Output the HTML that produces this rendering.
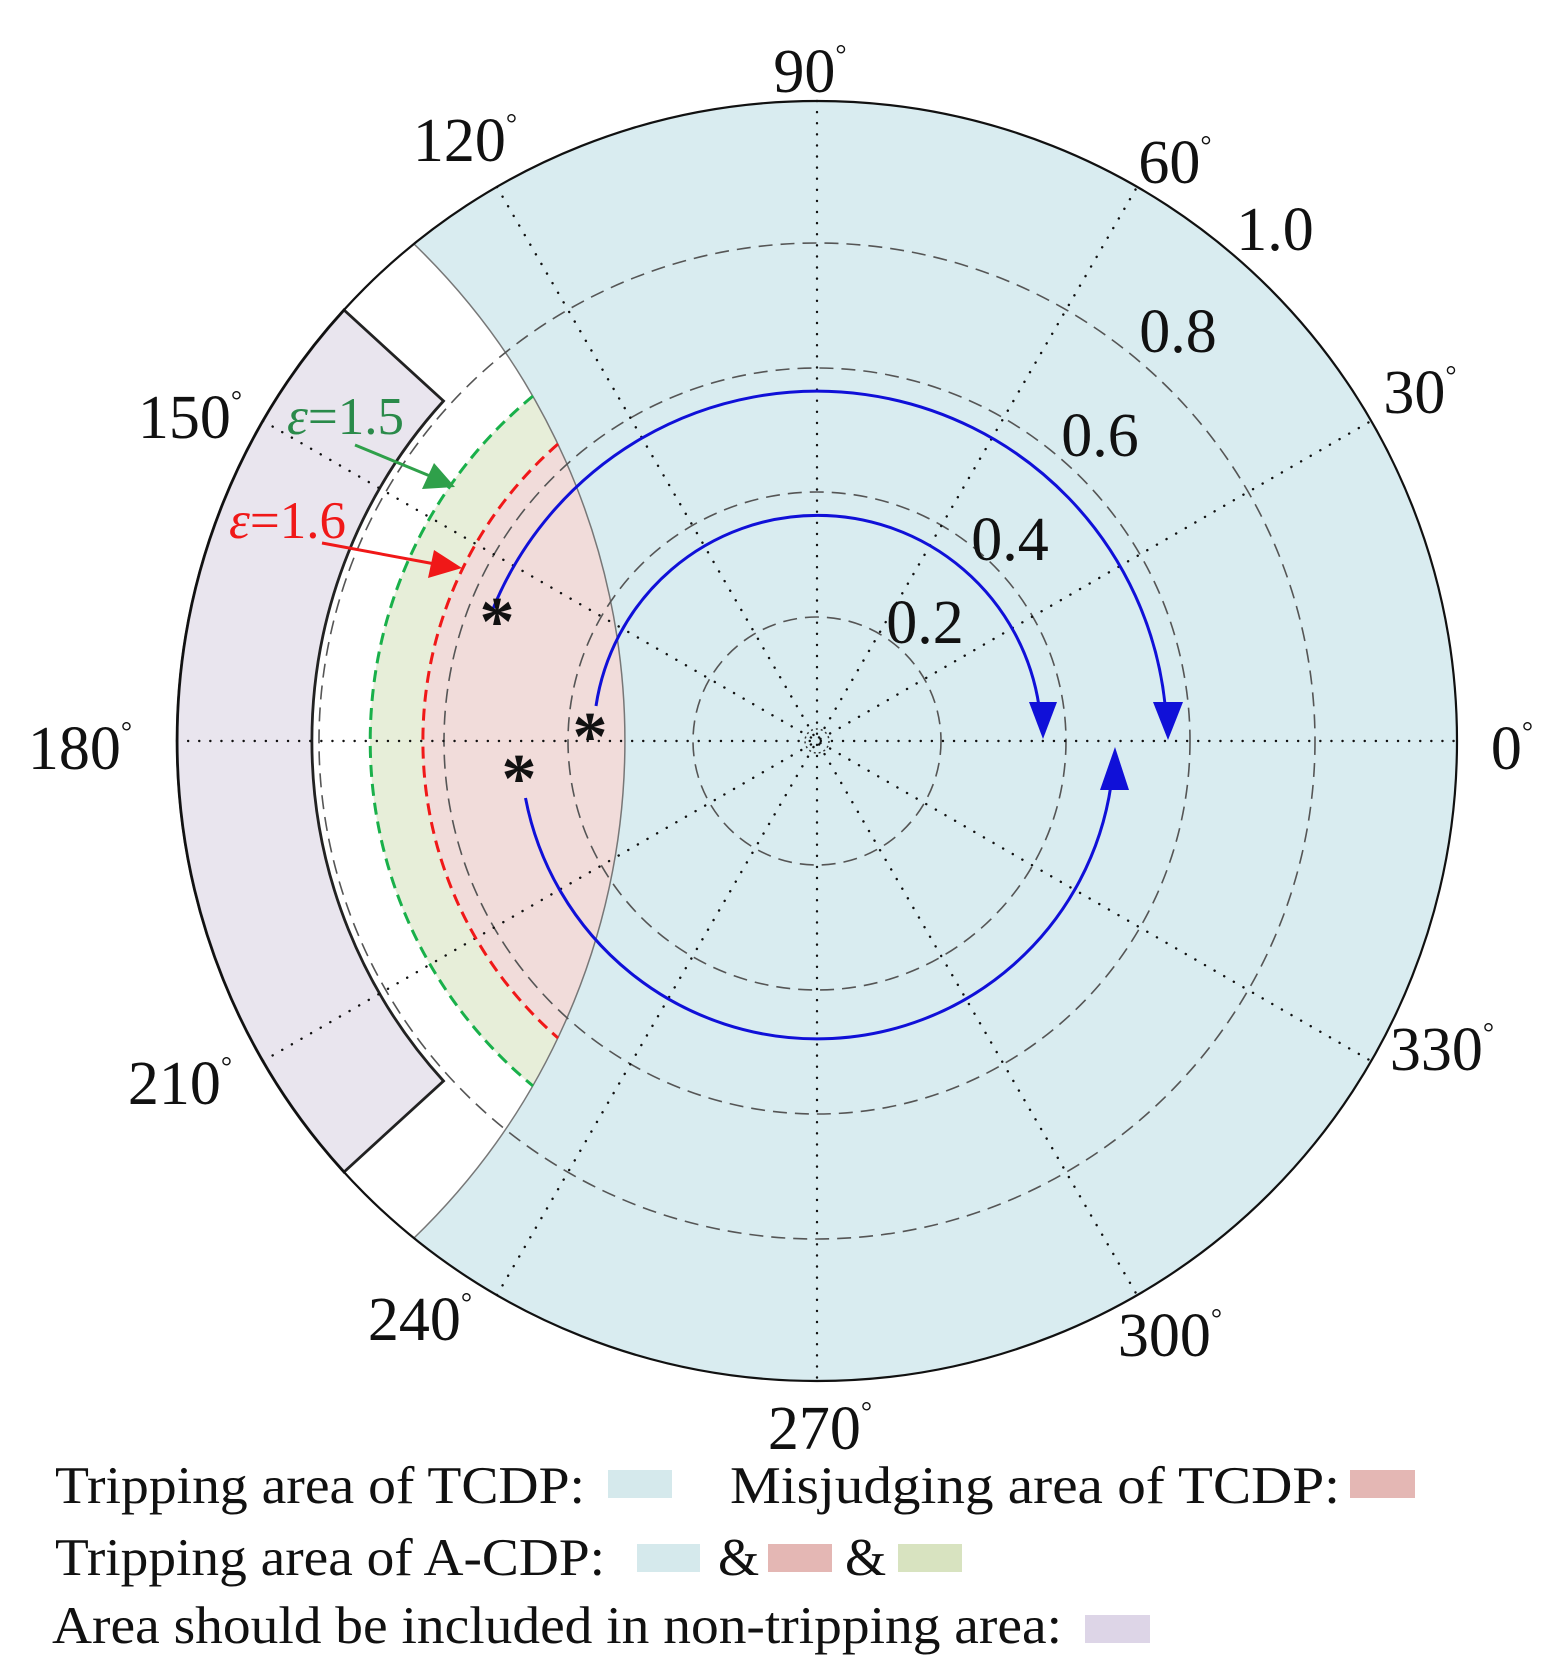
<!DOCTYPE html>
<html><head><meta charset="utf-8"><style>
html,body{margin:0;padding:0;background:#fff;}
svg{display:block;}
text{font-family:"Liberation Serif",serif;fill:#111;}
</style></head><body>
<svg width="1563" height="1680" viewBox="0 0 1563 1680" xmlns="http://www.w3.org/2000/svg">
<defs>
<clipPath id="left"><circle cx="-66" cy="741" r="691"/></clipPath>
<clipPath id="disk"><circle cx="817" cy="741" r="640"/></clipPath>
</defs>
<circle cx="817" cy="741" r="640" fill="#d9ecf0"/>
<g clip-path="url(#disk)">
<g clip-path="url(#left)">
<rect x="0" y="0" width="1563" height="1680" fill="#fff"/>
<circle cx="817" cy="741" r="447" fill="#e7eed9"/>
<circle cx="817" cy="741" r="394" fill="#f1dcda"/>
</g>
</g>
<path d="M344,310 A640,640 0 0 0 344,1172 L443.5,1081 A505,505 0 0 1 443.5,401 Z" fill="#e9e5ee" stroke="#222" stroke-width="2.8"/>
<path d="M414,244 A691,691 0 0 1 414,1238" fill="none" stroke="#777" stroke-width="1.5"/>
<g fill="none" stroke="#555" stroke-width="1.6" stroke-dasharray="14 8">
<circle cx="817" cy="741" r="124"/>
<circle cx="817" cy="741" r="249"/>
<circle cx="817" cy="741" r="373"/>
<circle cx="817" cy="741" r="498"/>
</g>
<circle cx="817" cy="741" r="12" fill="none" stroke="#333" stroke-width="1.5" stroke-dasharray="2 3"/>
<g stroke="#111" stroke-width="2.4" stroke-dasharray="0.1 11" stroke-linecap="round">
<line x1="177" y1="741" x2="1457" y2="741"/>
<line x1="817" y1="101" x2="817" y2="1381"/>
<line x1="263" y1="421" x2="1371" y2="1061"/>
<line x1="263" y1="1061" x2="1371" y2="421"/>
<line x1="497" y1="187" x2="1137" y2="1295"/>
<line x1="497" y1="1295" x2="1137" y2="187"/>
</g>
<path d="M533,396 A447,447 0 0 0 533,1086" fill="none" stroke="#19b04a" stroke-width="3" stroke-dasharray="12 7"/>
<path d="M558,444 A394,394 0 0 0 558,1038" fill="none" stroke="#f01818" stroke-width="3" stroke-dasharray="12 7"/>
<circle cx="817" cy="741" r="640" fill="none" stroke="#111" stroke-width="2.2"/>
<g fill="none" stroke="#1010d8" stroke-width="3">
<path d="M492.5,610 A350,350 0 0 1 1165,704"/>
<path d="M596,706 A224,224 0 0 1 1039,706"/>
<path d="M525.5,798 A297,297 0 0 0 1111,785"/>
</g>
<g fill="#1010d8">
<polygon points="1153,702 1183,702 1168,740"/>
<polygon points="1029,702 1057,702 1043,739"/>
<polygon points="1100,790 1129,790 1115,747"/>
</g>
<g font-size="70" font-weight="bold" text-anchor="middle">
<text x="497" y="645">*</text>
<text x="590" y="760">*</text>
<text x="519" y="802">*</text>
</g>
<text x="287" y="434" font-size="53" style="fill:#2a8a4a"><tspan font-style="italic">ε</tspan>=1.5</text>
<text x="229" y="538" font-size="53" style="fill:#f01818"><tspan font-style="italic">ε</tspan>=1.6</text>
<line x1="355" y1="445" x2="430" y2="476" stroke="#2fa04a" stroke-width="3"/>
<polygon points="455,487 422,489 434,463" fill="#2fa04a"/>
<line x1="322" y1="543" x2="435" y2="564" stroke="#f01818" stroke-width="3"/>
<polygon points="462,568 428,578 434,550" fill="#f01818"/>
<g font-size="62" text-anchor="middle">
<text x="810" y="92">90<tspan font-size="28" dy="-28">°</tspan></text>
<text x="465" y="161">120<tspan font-size="28" dy="-28">°</tspan></text>
<text x="1175" y="183">60<tspan font-size="28" dy="-28">°</tspan></text>
<text x="1420" y="413">30<tspan font-size="28" dy="-28">°</tspan></text>
<text x="190" y="438">150<tspan font-size="28" dy="-28">°</tspan></text>
<text x="80" y="769">180<tspan font-size="28" dy="-28">°</tspan></text>
<text x="1512" y="769">0<tspan font-size="28" dy="-28">°</tspan></text>
<text x="180" y="1104">210<tspan font-size="28" dy="-28">°</tspan></text>
<text x="1442" y="1070">330<tspan font-size="28" dy="-28">°</tspan></text>
<text x="420" y="1340">240<tspan font-size="28" dy="-28">°</tspan></text>
<text x="1170" y="1356">300<tspan font-size="28" dy="-28">°</tspan></text>
<text x="820" y="1449">270<tspan font-size="28" dy="-28">°</tspan></text>
</g>
<g font-size="62" text-anchor="middle">
<text x="1275" y="250">1.0</text>
<text x="1178" y="352">0.8</text>
<text x="1100" y="456">0.6</text>
<text x="1010" y="560">0.4</text>
<text x="925" y="643">0.2</text>
</g>
<g font-size="53">
<text x="55" y="1503" textLength="530" lengthAdjust="spacingAndGlyphs">Tripping area of TCDP:</text>
<text x="730" y="1503" textLength="610" lengthAdjust="spacingAndGlyphs">Misjudging area  of TCDP:</text>
<text x="55" y="1575" textLength="550" lengthAdjust="spacingAndGlyphs">Tripping area of A-CDP:</text>
<text x="718" y="1575">&amp;</text>
<text x="845" y="1575">&amp;</text>
<text x="52" y="1643" textLength="1010" lengthAdjust="spacingAndGlyphs">Area should be included in non-tripping area:</text>
</g>
<rect x="608" y="1470" width="64" height="28" fill="#d5e9ec"/>
<rect x="1350" y="1470" width="65" height="28" fill="#e4b7b4"/>
<rect x="637" y="1544" width="63" height="28" fill="#d5e9ec"/>
<rect x="768" y="1544" width="64" height="28" fill="#e4b7b4"/>
<rect x="898" y="1544" width="64" height="28" fill="#d8e3c0"/>
<rect x="1085" y="1615" width="65" height="28" fill="#ddd5e7"/>
</svg>
</body></html>
